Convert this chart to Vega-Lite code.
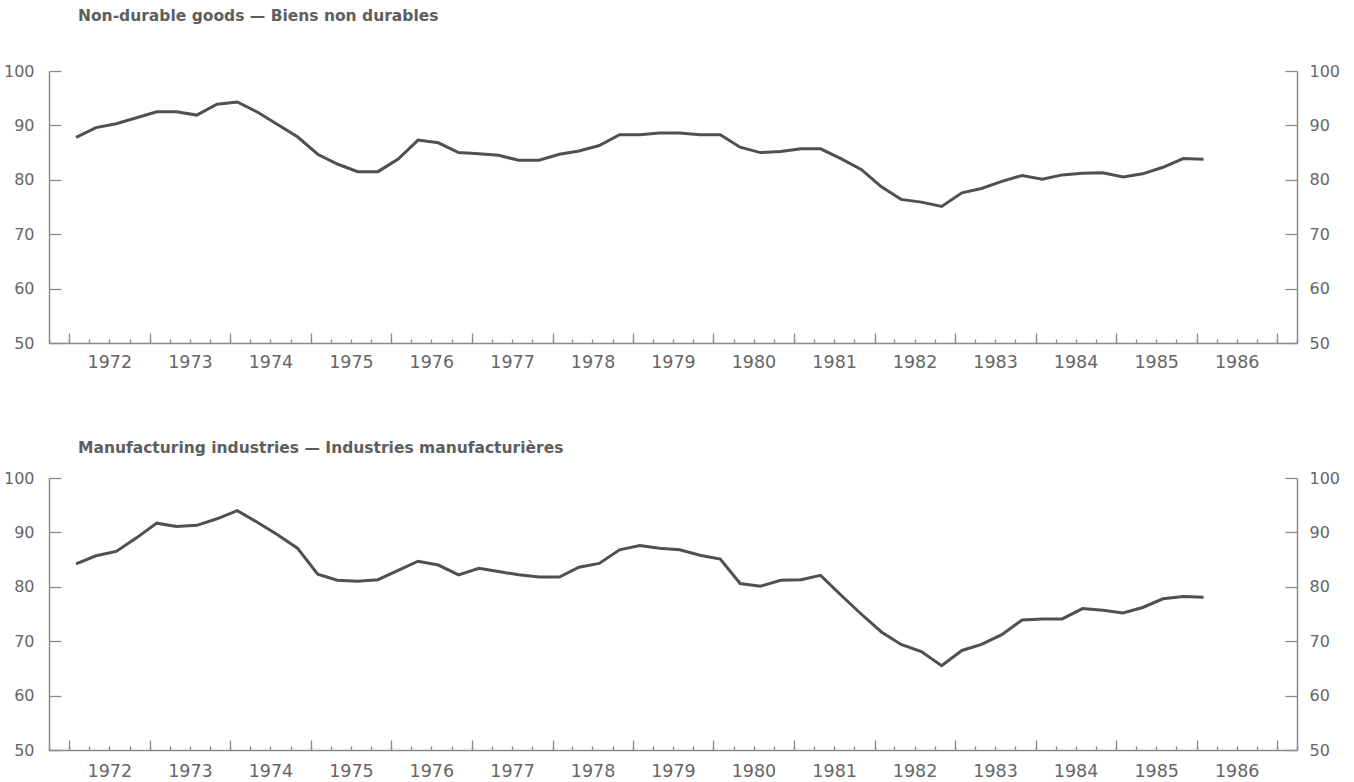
{
  "$schema": "https://vega.github.io/schema/vega-lite/v6.json",
  "background": "white",
  "padding": {"left": 3, "top": 8, "right": 6, "bottom": 2},
  "autosize": {"type": "pad"},
  "config": {
    "view": {"stroke": null},
    "font": "DejaVu Sans",
    "axis": {
      "grid": false,
      "domainColor": "#8a8a8a",
      "domainWidth": 1.5,
      "tickColor": "#8a8a8a",
      "tickWidth": 1.3,
      "labelColor": "#666666",
      "labelFont": "DejaVu Sans",
      "labelFontSize": 16,
      "title": null
    },
    "title": {"font": "DejaVu Sans", "fontSize": 15.5, "fontWeight": "bold", "color": "#5e5e5e", "anchor": "start", "frame": "group"}
  },
  "datasets": {
    "nd": [
      {"date": "1972-02-01", "value": 87.8}, {"date": "1972-05-01", "value": 89.6}, {"date": "1972-08-01", "value": 90.3}, {"date": "1972-11-01", "value": 91.4},
      {"date": "1973-02-01", "value": 92.5}, {"date": "1973-05-01", "value": 92.5}, {"date": "1973-08-01", "value": 91.9}, {"date": "1973-11-01", "value": 93.9},
      {"date": "1974-02-01", "value": 94.3}, {"date": "1974-05-01", "value": 92.5}, {"date": "1974-08-01", "value": 90.2}, {"date": "1974-11-01", "value": 87.9},
      {"date": "1975-02-01", "value": 84.7}, {"date": "1975-05-01", "value": 82.9}, {"date": "1975-08-01", "value": 81.5}, {"date": "1975-11-01", "value": 81.5},
      {"date": "1976-02-01", "value": 83.8}, {"date": "1976-05-01", "value": 87.3}, {"date": "1976-08-01", "value": 86.8}, {"date": "1976-11-01", "value": 85.0},
      {"date": "1977-02-01", "value": 84.8}, {"date": "1977-05-01", "value": 84.5}, {"date": "1977-08-01", "value": 83.6}, {"date": "1977-11-01", "value": 83.6},
      {"date": "1978-02-01", "value": 84.7}, {"date": "1978-05-01", "value": 85.3}, {"date": "1978-08-01", "value": 86.3}, {"date": "1978-11-01", "value": 88.3},
      {"date": "1979-02-01", "value": 88.3}, {"date": "1979-05-01", "value": 88.6}, {"date": "1979-08-01", "value": 88.6}, {"date": "1979-11-01", "value": 88.3},
      {"date": "1980-02-01", "value": 88.3}, {"date": "1980-05-01", "value": 86.0}, {"date": "1980-08-01", "value": 85.0}, {"date": "1980-11-01", "value": 85.2},
      {"date": "1981-02-01", "value": 85.7}, {"date": "1981-05-01", "value": 85.7}, {"date": "1981-08-01", "value": 83.9}, {"date": "1981-11-01", "value": 81.9},
      {"date": "1982-02-01", "value": 78.7}, {"date": "1982-05-01", "value": 76.4}, {"date": "1982-08-01", "value": 75.9}, {"date": "1982-11-01", "value": 75.1},
      {"date": "1983-02-01", "value": 77.6}, {"date": "1983-05-01", "value": 78.4}, {"date": "1983-08-01", "value": 79.7}, {"date": "1983-11-01", "value": 80.8},
      {"date": "1984-02-01", "value": 80.1}, {"date": "1984-05-01", "value": 80.9}, {"date": "1984-08-01", "value": 81.2}, {"date": "1984-11-01", "value": 81.3},
      {"date": "1985-02-01", "value": 80.5}, {"date": "1985-05-01", "value": 81.1}, {"date": "1985-08-01", "value": 82.3}, {"date": "1985-11-01", "value": 83.9},
      {"date": "1986-02-01", "value": 83.8}
    ],
    "mf": [
      {"date": "1972-02-01", "value": 84.2}, {"date": "1972-05-01", "value": 85.7}, {"date": "1972-08-01", "value": 86.5}, {"date": "1972-11-01", "value": 89.0},
      {"date": "1973-02-01", "value": 91.7}, {"date": "1973-05-01", "value": 91.1}, {"date": "1973-08-01", "value": 91.3}, {"date": "1973-11-01", "value": 92.5},
      {"date": "1974-02-01", "value": 94.0}, {"date": "1974-05-01", "value": 91.9}, {"date": "1974-08-01", "value": 89.6}, {"date": "1974-11-01", "value": 87.1},
      {"date": "1975-02-01", "value": 82.3}, {"date": "1975-05-01", "value": 81.2}, {"date": "1975-08-01", "value": 81.0}, {"date": "1975-11-01", "value": 81.3},
      {"date": "1976-02-01", "value": 83.0}, {"date": "1976-05-01", "value": 84.7}, {"date": "1976-08-01", "value": 84.0}, {"date": "1976-11-01", "value": 82.2},
      {"date": "1977-02-01", "value": 83.4}, {"date": "1977-05-01", "value": 82.8}, {"date": "1977-08-01", "value": 82.2}, {"date": "1977-11-01", "value": 81.8},
      {"date": "1978-02-01", "value": 81.8}, {"date": "1978-05-01", "value": 83.6}, {"date": "1978-08-01", "value": 84.3}, {"date": "1978-11-01", "value": 86.8},
      {"date": "1979-02-01", "value": 87.6}, {"date": "1979-05-01", "value": 87.1}, {"date": "1979-08-01", "value": 86.8}, {"date": "1979-11-01", "value": 85.8},
      {"date": "1980-02-01", "value": 85.1}, {"date": "1980-05-01", "value": 80.6}, {"date": "1980-08-01", "value": 80.1}, {"date": "1980-11-01", "value": 81.2},
      {"date": "1981-02-01", "value": 81.3}, {"date": "1981-05-01", "value": 82.1}, {"date": "1981-08-01", "value": 78.5}, {"date": "1981-11-01", "value": 75.0},
      {"date": "1982-02-01", "value": 71.7}, {"date": "1982-05-01", "value": 69.4}, {"date": "1982-08-01", "value": 68.1}, {"date": "1982-11-01", "value": 65.5},
      {"date": "1983-02-01", "value": 68.3}, {"date": "1983-05-01", "value": 69.4}, {"date": "1983-08-01", "value": 71.2}, {"date": "1983-11-01", "value": 73.9},
      {"date": "1984-02-01", "value": 74.1}, {"date": "1984-05-01", "value": 74.1}, {"date": "1984-08-01", "value": 76.0}, {"date": "1984-11-01", "value": 75.7},
      {"date": "1985-02-01", "value": 75.2}, {"date": "1985-05-01", "value": 76.2}, {"date": "1985-08-01", "value": 77.8}, {"date": "1985-11-01", "value": 78.2},
      {"date": "1986-02-01", "value": 78.1}
    ]
  },
  "spacing": 69,
  "vconcat": [
    {
      "width": 1248,
      "height": 272,
      "title": {"text": "Non-durable goods — Biens non durables", "dx": 29, "offset": 39},
      "data": {"name": "nd"},
      "layer": [
        {
          "mark": {"type": "line", "color": "#505050", "strokeWidth": 3},
          "encoding": {
            "x": {"field": "date", "type": "temporal",
              "scale": {"type": "utc", "domain": [{"year": 1971, "month": 10, "date": 1, "utc": true}, {"year": 1987, "month": 4, "date": 1, "utc": true}]},
              "axis": {"orient": "bottom", "tickCount": {"interval": "year", "step": 1}, "tickSize": -10, "labelPadding": 20, "labelOffset": 40, "format": "%Y", "labelFlush": false, "labelOverlap": false, "labelExpr": "utcyear(datum.value) >= 1987 ? '' : datum.label", "labelFontSize": 17.5}},
            "y": {"field": "value", "type": "quantitative",
              "scale": {"domain": [50, 100], "nice": false, "zero": false},
              "axis": {"orient": "left", "values": [50, 60, 70, 80, 90, 100], "tickSize": -12, "labelPadding": 27}}
          }
        },
        {
          "mark": {"type": "line", "strokeOpacity": 0},
          "encoding": {
            "x": {"field": "date", "type": "temporal",
              "axis": {"orient": "bottom", "tickCount": {"interval": "month", "step": 3}, "tickSize": -4, "labels": false, "domain": false}},
            "y": {"field": "value", "type": "quantitative",
              "axis": {"orient": "right", "values": [50, 60, 70, 80, 90, 100], "tickSize": -12, "labelPadding": 24}}
          }
        }
      ],
      "resolve": {"axis": {"x": "independent", "y": "independent"}}
    },
    {
      "width": 1248,
      "height": 272,
      "title": {"text": "Manufacturing industries — Industries manufacturières", "dx": 29, "offset": 14},
      "data": {"name": "mf"},
      "layer": [
        {
          "mark": {"type": "line", "color": "#505050", "strokeWidth": 3},
          "encoding": {
            "x": {"field": "date", "type": "temporal",
              "scale": {"type": "utc", "domain": [{"year": 1971, "month": 10, "date": 1, "utc": true}, {"year": 1987, "month": 4, "date": 1, "utc": true}]},
              "axis": {"orient": "bottom", "tickCount": {"interval": "year", "step": 1}, "tickSize": -10, "labelPadding": 22, "labelOffset": 40, "format": "%Y", "labelFlush": false, "labelOverlap": false, "labelExpr": "utcyear(datum.value) >= 1987 ? '' : datum.label", "labelFontSize": 17.5}},
            "y": {"field": "value", "type": "quantitative",
              "scale": {"domain": [50, 100], "nice": false, "zero": false},
              "axis": {"orient": "left", "values": [50, 60, 70, 80, 90, 100], "tickSize": -12, "labelPadding": 27}}
          }
        },
        {
          "mark": {"type": "line", "strokeOpacity": 0},
          "encoding": {
            "x": {"field": "date", "type": "temporal",
              "axis": {"orient": "bottom", "tickCount": {"interval": "month", "step": 3}, "tickSize": -4, "labels": false, "domain": false}},
            "y": {"field": "value", "type": "quantitative",
              "axis": {"orient": "right", "values": [50, 60, 70, 80, 90, 100], "tickSize": -12, "labelPadding": 24}}
          }
        }
      ],
      "resolve": {"axis": {"x": "independent", "y": "independent"}}
    }
  ]
}
